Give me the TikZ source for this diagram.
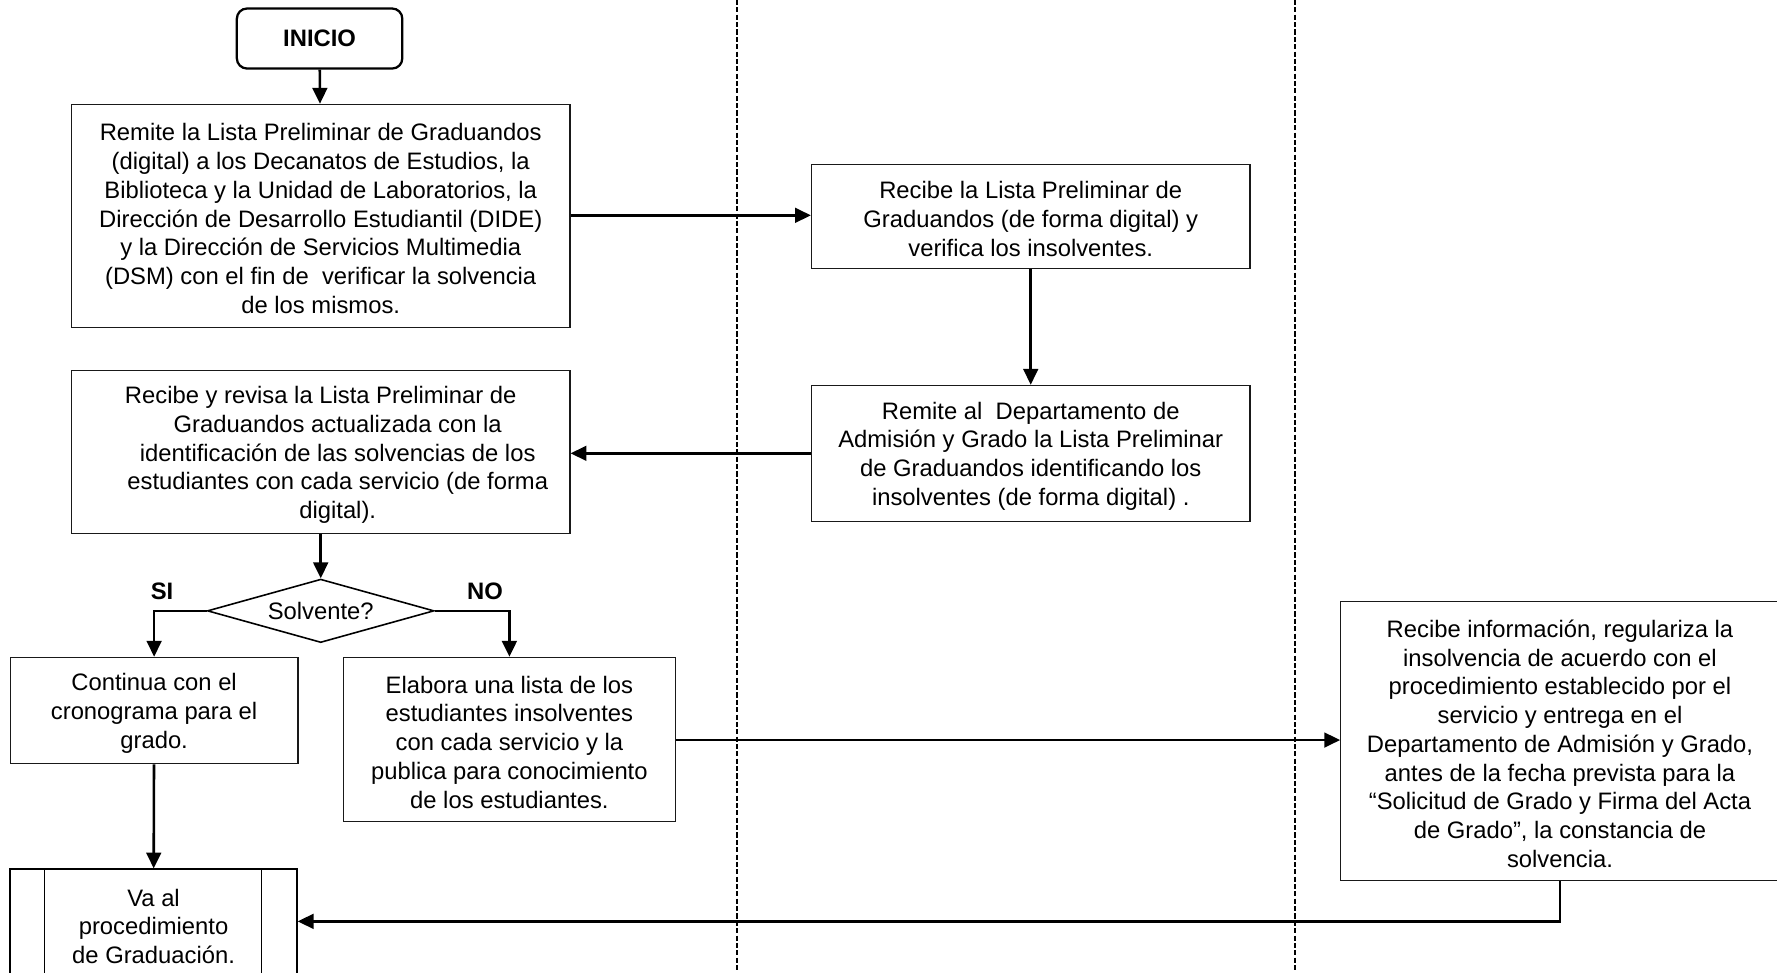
\documentclass[tikz,border=0pt]{standalone}
\usepackage{fontspec}
\setmainfont{Liberation Sans}
\usetikzlibrary{arrows.meta,shapes.geometric}
% strut that lifts the top of a text block a little
\newcommand{\lnpad}{\rule{0pt}{20pt}}
\begin{document}
\begin{tikzpicture}[x=1pt,y=-1pt,
  every node/.style={font=\fontsize{21}{25.4}\selectfont},
  proc/.style={draw=black!90, line width=1pt, align=center, inner sep=0pt},
  startbox/.style={draw=black, line width=2pt, rounded corners=9pt, inner sep=0pt,
    font=\fontsize{21}{25.4}\selectfont\bfseries},
  decision/.style={draw=black, line width=1.4pt, diamond, inner sep=0pt, aspect=3.6},
  conn/.style={line width=2.3pt, -{Triangle[length=14pt,width=13pt]}},
  lane/.style={line width=1.8pt, dash pattern=on 4.5pt off 2pt},
  branch/.style={font=\fontsize{21}{25.4}\selectfont\bfseries}
]
\useasboundingbox (0,0) rectangle (1568,858);

% swimlane separators
\coordinate (laneAtop) at (650,0);
\coordinate (laneAbot) at (650,858);
\coordinate (laneBtop) at (1143,0);
\coordinate (laneBbot) at (1143,858);
\draw[lane] (laneAtop) -- (laneAbot);
\draw[lane] (laneBtop) -- (laneBbot);

% first lane
\node[startbox, minimum width=146pt, minimum height=53pt] (inicio) at (282,34) {INICIO};

\node[proc, minimum width=440pt, minimum height=197pt] (remite) at (283,190.5)
  {\lnpad Remite la Lista Preliminar de Graduandos\\
   (digital) a los Decanatos de Estudios, la\\
   Biblioteca y la Unidad de Laboratorios, la\\
   Dirección de Desarrollo Estudiantil (DIDE)\\
   y la Dirección de Servicios Multimedia\\
   (DSM) con el fin de\ \ verificar la solvencia\\
   de los mismos.};

\node[proc, minimum width=440pt, minimum height=144pt] (revisa) at (283,399)
  {\lnpad Recibe y revisa la Lista Preliminar de\\
   \hspace*{30pt}Graduandos actualizada con la\\
   \hspace*{30pt}identificación de las solvencias de los\\
   \hspace*{30pt}estudiantes con cada servicio (de forma\\
   \hspace*{30pt}digital).};

\node[decision, minimum width=200pt, minimum height=56pt] (solv) at (283,539) {Solvente?};
\node[branch] (si) at (143,522) {SI};
\node[branch] (no) at (428,522) {NO};

\node[proc, minimum width=254pt, minimum height=94pt] (continua) at (136,627)
  {\lnpad Continua con el\\ cronograma para el\\ grado.};

\node[proc, minimum width=293pt, minimum height=145pt] (elabora) at (449.5,652.5)
  {\lnpad Elabora una lista de los\\
   estudiantes insolventes\\
   con cada servicio y la\\
   publica para conocimiento\\
   de los estudiantes.};

\node[proc, draw=black, line width=1.4pt, minimum width=253pt, minimum height=96pt] (grad) at (135.5,815)
  {\lnpad Va al\\ procedimiento\\ de Graduación.};
\draw[line width=1.4pt] ([xshift=31pt]grad.north west) -- ([xshift=31pt]grad.south west);
\draw[line width=1.4pt] ([xshift=-32pt]grad.north east) -- ([xshift=-32pt]grad.south east);

% second lane
\node[proc, minimum width=387pt, minimum height=92pt] (recibe) at (909.5,191)
  {\lnpad Recibe la Lista Preliminar de\\
   Graduandos (de forma digital) y\\
   verifica los insolventes.};

\node[proc, minimum width=387pt, minimum height=120pt] (remiteal) at (909.5,400)
  {\lnpad Remite al\ \ Departamento de\\
   Admisión y Grado la Lista Preliminar\\
   de Graduandos identificando los\\
   insolventes (de forma digital) .};

% third lane
\node[proc, minimum width=387pt, minimum height=246pt] (regulariza) at (1376.5,654)
  {\lnpad Recibe información, regulariza la\\
   insolvencia de acuerdo con el\\
   procedimiento establecido por el\\
   servicio y entrega en el\\
   Departamento de Admisión y Grado,\\
   antes de la fecha prevista para la\\
   “Solicitud de Grado y Firma del Acta\\
   de Grado”, la constancia de\\
   solvencia.};

% connectors
\draw[conn] (inicio) -- (remite);
\draw[conn] (remite.east |- 0,190) -- (recibe.west |- 0,190);
\draw[conn] (recibe) -- (remiteal);
\draw[conn] (remiteal.west) -- (remiteal.west -| revisa.east);
\draw[conn] (revisa) -- (solv);
\draw[conn] (solv.west) -| (continua.north);
\draw[conn] (solv.east) -| (elabora.north);
\draw[conn] (continua) -- (grad);
\draw[conn] (elabora.east |- 0,653) -- (regulariza.west |- 0,653);
\draw[conn] (regulariza.south) |- (grad.east |- 0,813);
\end{tikzpicture}
\end{document}
